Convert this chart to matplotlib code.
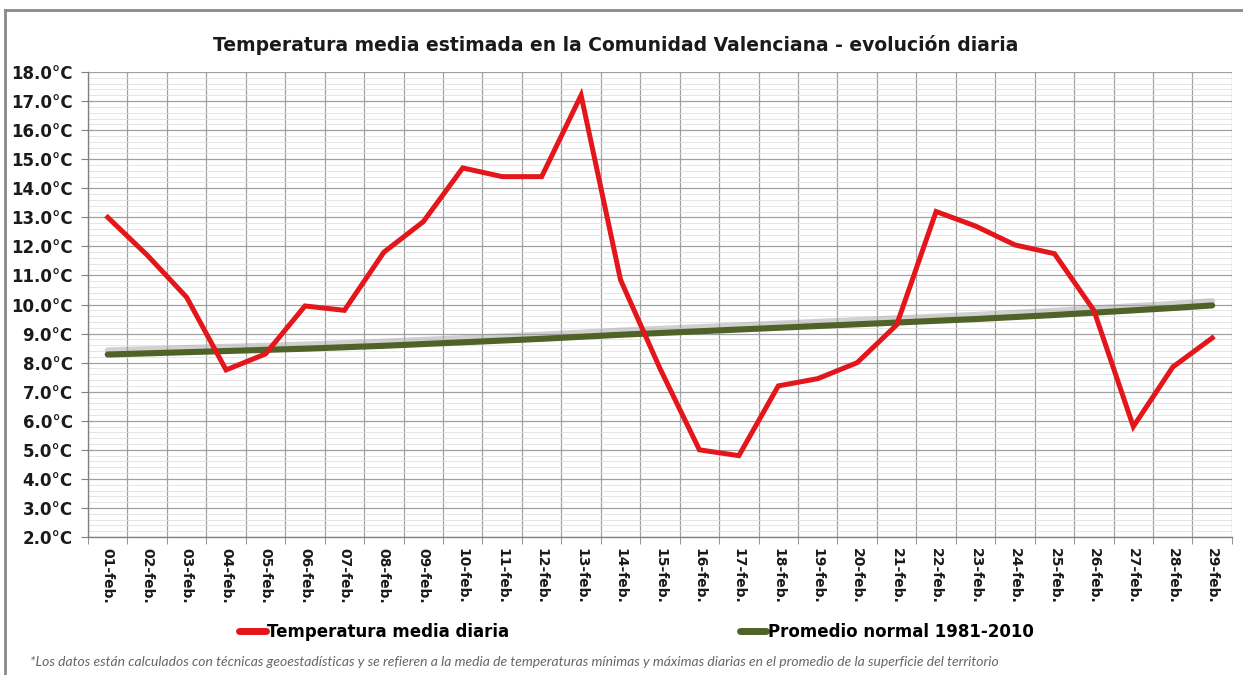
#!/usr/bin/env python3
"""Temperatura media estimada en la Comunidad Valenciana - evolucion diaria (febrero)."""

import matplotlib
matplotlib.use("Agg")
import matplotlib.pyplot as plt
import matplotlib.patheffects as pe
from matplotlib.lines import Line2D
from matplotlib.ticker import MultipleLocator, FixedLocator

days = ["01-feb.", "02-feb.", "03-feb.", "04-feb.", "05-feb.", "06-feb.", "07-feb.",
        "08-feb.", "09-feb.", "10-feb.", "11-feb.", "12-feb.", "13-feb.", "14-feb.",
        "15-feb.", "16-feb.", "17-feb.", "18-feb.", "19-feb.", "20-feb.", "21-feb.",
        "22-feb.", "23-feb.", "24-feb.", "25-feb.", "26-feb.", "27-feb.", "28-feb.",
        "29-feb."]
temp_daily = [13.0, 11.7, 10.25, 7.75, 8.3, 9.95, 9.8, 11.8, 12.85, 14.7, 14.4, 14.4,
              17.2, 10.85, 7.8, 5.0, 4.8, 7.2, 7.45, 8.0, 9.3, 13.2, 12.7, 12.05, 11.75,
              9.8, 5.8, 7.85, 8.85]
temp_normal = [8.28, 8.32, 8.36, 8.40, 8.44, 8.48, 8.53, 8.58, 8.64, 8.70, 8.76, 8.82,
               8.89, 8.96, 9.02, 9.08, 9.14, 9.20, 9.26, 9.32, 9.38, 9.44, 9.50, 9.57,
               9.64, 9.72, 9.80, 9.88, 9.97]
y_ticks = [2.0, 3.0, 4.0, 5.0, 6.0, 7.0, 8.0, 9.0, 10.0, 11.0, 12.0, 13.0, 14.0,
           15.0, 16.0, 17.0, 18.0]

RED = "#e3161b"
GREEN = "#4f6228"

plt.rcParams["font.family"] = ["DejaVu Sans"]

fig = plt.figure(figsize=(12.43, 6.75), dpi=100)
ax = fig.add_axes([0.0708, 0.2044, 0.9203, 0.6889])
ax.set_facecolor("none")

x = list(range(len(days)))
ax.plot(x, temp_normal, color=GREEN, linewidth=4.4, solid_capstyle="round", zorder=3,
        path_effects=[pe.SimpleLineShadow(offset=(0, 3), shadow_color="#9a9a9a", alpha=0.45),
                      pe.Normal()])
ax.plot(x, temp_daily, color=RED, linewidth=3.6, solid_joinstyle="miter", zorder=4)

ax.set_xlim(-0.5, len(days) - 0.5)
ax.set_yticks(y_ticks)
ax.set_yticklabels([f"{v:.1f}°C" for v in y_ticks], fontsize=12,
                   fontweight="bold", color="#1a1a1a")
ax.yaxis.set_minor_locator(MultipleLocator(0.2))
ax.set_ylim(2.0, 18.0)

ax.set_xticks(x)
ax.set_xticklabels(days, rotation=-90, fontsize=10, fontweight="bold", color="#1a1a1a")
ax.xaxis.set_minor_locator(FixedLocator([i - 0.5 for i in range(len(days) + 1)]))

ax.tick_params(axis="x", which="major", length=0, pad=8)
ax.tick_params(axis="x", which="minor", length=5, color="#808080")
ax.tick_params(axis="y", which="major", length=5, color="#808080", pad=6)
ax.tick_params(axis="y", which="minor", length=0)

ax.grid(True, axis="y", which="major", color="#a0a0a0", linewidth=0.9, zorder=1)
ax.grid(True, axis="y", which="minor", color="#e0e0e0", linewidth=0.6, zorder=1)
ax.grid(True, axis="x", which="minor", color="#a0a0a0", linewidth=0.9, zorder=1)
ax.grid(False, axis="x", which="major")
ax.set_axisbelow(True)

for side in ("top", "right"):
    ax.spines[side].set_visible(False)
for side in ("left", "bottom"):
    ax.spines[side].set_color("#808080")
    ax.spines[side].set_linewidth(1.0)

fig.text(0.4956, 0.933,
         "Temperatura media estimada en la Comunidad Valenciana - evolución diaria",
         ha="center", va="center", fontsize=13.5, fontweight="bold", color="#1a1a1a")

handles = [Line2D([], [], color=RED, linewidth=5, solid_capstyle="round"),
           Line2D([], [], color=GREEN, linewidth=5, solid_capstyle="round")]
fig.legend(handles, ["Temperatura media diaria", "Promedio normal 1981-2010"],
           loc="center", bbox_to_anchor=(0.512, 0.064), ncol=2, frameon=False,
           handlelength=1.6, handletextpad=0.1, columnspacing=13.8,
           prop={"family": "DejaVu Sans", "weight": "bold", "size": 12})

fig.text(0.024, 0.019,
         "*Los datos están calculados con técnicas geoestadísticas y se refieren a la media "
         "de temperaturas mínimas y máximas diarias en el promedio de la superficie del territorio",
         ha="left", va="center", fontsize=10, fontstyle="italic", family="Lato",
         color="#666666")

# outer frame
fig.add_artist(Line2D([0.004, 0.004], [0.0, 0.985], color="#8a8a8a", linewidth=2.0,
                      transform=fig.transFigure))
fig.add_artist(Line2D([0.004, 1.0], [0.985, 0.985], color="#8a8a8a", linewidth=2.0,
                      transform=fig.transFigure))

fig.savefig("out.png", dpi=100)
